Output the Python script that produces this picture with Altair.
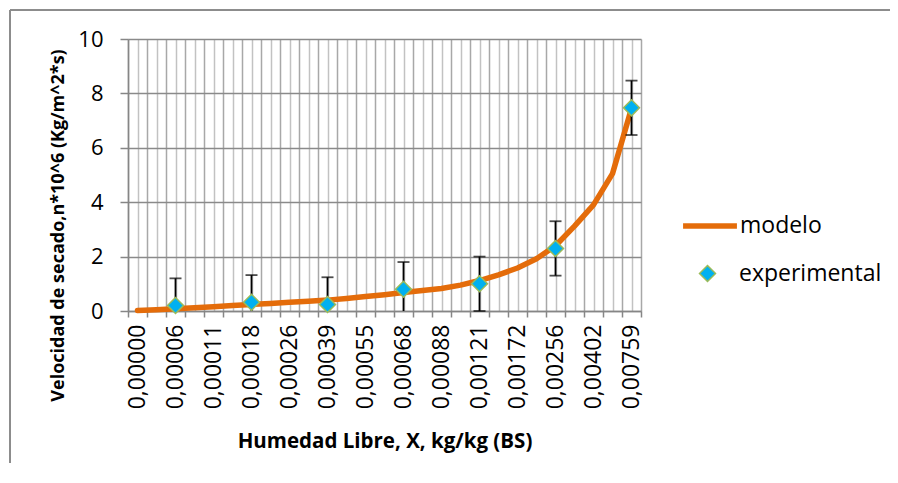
import altair as alt
import pandas as pd

# ---------------- data ----------------
x_labels = ['0,00000', '0,00006', '0,00011', '0,00018', '0,00026', '0,00039', '0,00055',
            '0,00068', '0,00088', '0,00121', '0,00172', '0,00256', '0,00402', '0,00759']
modelo = [0.02, 0.05, 0.08, 0.12, 0.16, 0.20, 0.24, 0.28, 0.32, 0.36, 0.40, 0.46, 0.53, 0.60,
          0.68, 0.75, 0.83, 0.95, 1.12, 1.33, 1.58, 1.92, 2.40, 3.12, 3.90, 5.05, 7.45]
exp_pos = [2, 6, 10, 14, 18, 22, 26]
experimental = [0.20, 0.32, 0.24, 0.80, 1.00, 2.30, 7.47]
error_bar = [1.0, 1.0, 1.0, 1.0, 1.0, 1.0, 1.0]
y_ticks = [0, 2, 4, 6, 8, 10]

ORANGE = '#E46C0A'
BLUE = '#00B0F0'
GREEN = '#9BBB59'
FONT = 'Open Sans'

n = len(modelo)
df_line = pd.DataFrame({'pos': list(range(n)), 'v': modelo, 'serie': 'modelo'})
df_exp = pd.DataFrame({'pos': exp_pos, 'v': experimental, 'err': error_bar,
                       'serie': 'experimental'})
df_exp['low'] = df_exp['v'] - df_exp['err']
df_exp['high'] = df_exp['v'] + df_exp['err']

grid_vals = [i * 0.5 - 0.5 for i in range(2 * n + 1)]
label_js = '[' + ','.join("'" + l + "'" for l in x_labels) + ']'

x_scale = alt.Scale(domain=[-0.5, n - 0.5], nice=False, zero=False)
y_scale = alt.Scale(domain=[0, 10], nice=False)

x_axis = alt.Axis(
    values=grid_vals,
    labelExpr="datum.value % 2 === 0 ? " + label_js + "[datum.value / 2] : ''",
    labelAngle=-90, labelAlign='right', labelBaseline='middle',
    labelOverlap=False, labelFlush=False,
    labelFont=FONT, labelFontSize=23, labelColor='black', labelPadding=7,
    tickSize=6, tickColor='#868686', tickWidth=1.5,
    tickOpacity={'condition': {'test': 'datum.value % 1 !== 0', 'value': 1}, 'value': 0},
    grid=True,
    gridColor={'condition': {'test': 'datum.value % 1 !== 0', 'value': '#A8A8A8'},
               'value': '#C2C2C2'},
    gridWidth=1.5,
    domainColor='#868686', domainWidth=1.5,
    title='Humedad Libre, X, kg/kg (BS)', titleFont=FONT, titleFontSize=20.5,
    titleFontWeight='bold', titleColor='black', titleY=130, titleBaseline='middle',
)
y_axis = alt.Axis(
    values=y_ticks,
    labelFont=FONT, labelFontSize=22, labelColor='black', labelPadding=17,
    tickSize=8, tickColor='#868686', tickWidth=1.5,
    grid=True, gridColor='#8A8A8A', gridWidth=1.5,
    domainColor='#868686', domainWidth=1.5,
    title='Velocidad de secado,n*10^6 (Kg/m^2*s)', titleFont=FONT, titleFontSize=18,
    titleFontWeight='bold', titleColor='black', titleAngle=270,
    titleX=-70, titleY=186, titleAlign='center', titleBaseline='middle',
)

X = alt.X('pos:Q', scale=x_scale, axis=x_axis)

# chart-area frame (left and top edges only are inside the picture)
frame_left = alt.Chart(df_line).mark_rule(color='#8C8C8C', strokeWidth=1).encode(
    x=alt.value(-118), y=alt.value(-29), y2=alt.value(2000)
)
frame_top = alt.Chart(df_line).mark_rule(color='#8C8C8C', strokeWidth=1).encode(
    x=alt.value(-118), x2=alt.value(2000), y=alt.value(-29)
)

line = alt.Chart(df_line).mark_line(strokeWidth=5.5, strokeCap='round', strokeJoin='round').encode(
    x=X,
    y=alt.Y('v:Q', scale=y_scale, axis=y_axis),
    stroke=alt.Stroke('serie:N', scale=alt.Scale(domain=['modelo'], range=[ORANGE]),
                      legend=alt.Legend(orient='none', legendX=552, legendY=157, title=None,
                                        symbolType='stroke', symbolSize=2900,
                                        symbolStrokeWidth=5.5, labelFont=FONT,
                                        labelFontSize=23, labelOffset=0,
                                        labelColor='black', padding=0)),
)

err = alt.Chart(df_exp).mark_rule(color='black', strokeWidth=1.8, clip=True).encode(
    x=X,
    y=alt.Y('low:Q', scale=y_scale, axis=y_axis),
    y2='high:Q',
)
cap_top = alt.Chart(df_exp).mark_tick(orient='horizontal', size=12, thickness=1.8,
                                      color='black').encode(
    x=X, y=alt.Y('high:Q', scale=y_scale, axis=y_axis)
)
cap_low = alt.Chart(df_exp).transform_filter('datum.low >= 0').mark_tick(
    orient='horizontal', size=12, thickness=1.8, color='black').encode(
    x=X, y=alt.Y('low:Q', scale=y_scale, axis=y_axis)
)

points = alt.Chart(df_exp).mark_point(shape='diamond', filled=True, size=256, stroke=GREEN,
                                      strokeWidth=1.5, opacity=1).encode(
    x=X,
    y=alt.Y('v:Q', scale=y_scale, axis=y_axis),
    fill=alt.Fill('serie:N', scale=alt.Scale(domain=['experimental'], range=[BLUE]),
                  legend=alt.Legend(orient='none', legendX=568, legendY=223, title=None,
                                    symbolType='diamond', symbolSize=256,
                                    symbolStrokeColor=GREEN, symbolStrokeWidth=1.5,
                                    symbolOpacity=1,
                                    labelFont=FONT, labelFontSize=23, labelOffset=20,
                                    labelColor='black', padding=0)),
)

chart = alt.layer(frame_left, frame_top, line, err, cap_top, cap_low, points).properties(
    width=513, height=272,
    autosize=alt.AutoSizeParams(type='none'),
    padding={'left': 120, 'top': 31, 'right': 249, 'bottom': 152},
    background='white',
).configure_view(stroke=None)

chart.save('out.html', embed_options={'renderer': 'svg', 'actions': False})
